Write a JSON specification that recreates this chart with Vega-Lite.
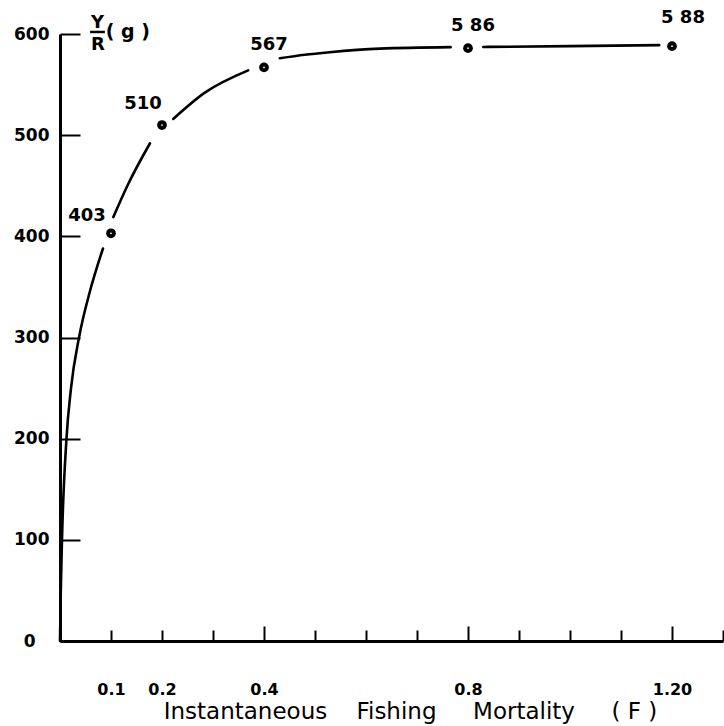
{
  "$schema": "https://vega.github.io/schema/vega-lite/v6.json",
  "width": 663,
  "height": 607,
  "autosize": {"type": "none"},
  "padding": {"left": 60, "top": 34, "right": 1, "bottom": 85},
  "background": "white",
  "config": {"view": {"stroke": null}, "font": "DejaVu Sans"},
  "datasets": {
    "curve": [
      {"seg": "a", "F": 0, "YR": 0},
      {"seg": "a", "F": 0.0016, "YR": 50},
      {"seg": "a", "F": 0.0039, "YR": 100},
      {"seg": "a", "F": 0.0127, "YR": 200},
      {"seg": "a", "F": 0.0216, "YR": 250},
      {"seg": "a", "F": 0.0373, "YR": 300},
      {"seg": "a", "F": 0.0578, "YR": 344},
      {"seg": "a", "F": 0.0843, "YR": 388},
      {"seg": "b", "F": 0.1045, "YR": 419},
      {"seg": "b", "F": 0.134, "YR": 452},
      {"seg": "b", "F": 0.1765, "YR": 492},
      {"seg": "c", "F": 0.222, "YR": 516},
      {"seg": "c", "F": 0.284, "YR": 542},
      {"seg": "c", "F": 0.369, "YR": 564},
      {"seg": "d", "F": 0.431, "YR": 576},
      {"seg": "d", "F": 0.48, "YR": 579.5},
      {"seg": "d", "F": 0.529, "YR": 582},
      {"seg": "d", "F": 0.627, "YR": 585.5},
      {"seg": "d", "F": 0.766, "YR": 587},
      {"seg": "e", "F": 0.83, "YR": 587.2},
      {"seg": "e", "F": 1.0, "YR": 588},
      {"seg": "e", "F": 1.175, "YR": 589}
    ],
    "points": [
      {"F": 0.1, "YR": 403, "label": "403"},
      {"F": 0.2, "YR": 510, "label": "510"},
      {"F": 0.4, "YR": 567, "label": "567"},
      {"F": 0.8, "YR": 586, "label": "5 86"},
      {"F": 1.2, "YR": 588, "label": "5 88"}
    ],
    "one": [{}]
  },
  "layer": [
    {
      "data": {"name": "curve"},
      "mark": {"type": "line", "interpolate": "monotone", "color": "black", "strokeWidth": 2.6, "strokeCap": "round"},
      "encoding": {
        "x": {
          "field": "F",
          "type": "quantitative",
          "scale": {"domain": [0, 1.3], "nice": false},
          "axis": {
            "values": [0.1, 0.2, 0.3, 0.4, 0.5, 0.6, 0.7, 0.8, 0.9, 1.0, 1.1, 1.2, 1.3],
            "labelExpr": "datum.value == 1.2 ? '1.20' : (datum.value == 0.1 || datum.value == 0.2 || datum.value == 0.4 || datum.value == 0.8) ? format(datum.value, '.1f') : ''",
            "grid": false,
            "domainColor": "black",
            "domainWidth": 3,
            "tickColor": "black",
            "tickWidth": 2,
            "tickSize": {"condition": {"test": "datum.value == 0.4 || datum.value == 0.8 || datum.value == 1.2", "value": -15}, "value": -11},
            "labelFontSize": 16,
            "labelFontWeight": "bold",
            "labelColor": "black",
            "labelPadding": {"condition": {"test": "datum.value == 0.4 || datum.value == 0.8 || datum.value == 1.2", "value": 55}, "value": 51},
            "labelFlush": false,
            "title": "Instantaneous\u00a0\u00a0\u00a0\u00a0Fishing\u00a0\u00a0\u00a0\u00a0\u00a0Mortality\u00a0\u00a0\u00a0\u00a0\u00a0(\u00a0F\u00a0)",
            "titleFontSize": 23,
            "titleFontWeight": "normal",
            "titleColor": "black",
            "titleX": 350,
            "titleY": 59,
            "titleAlign": "center",
            "titleBaseline": "top"
          }
        },
        "y": {
          "field": "YR",
          "type": "quantitative",
          "scale": {"domain": [0, 600], "nice": false},
          "axis": {
            "values": [0, 100, 200, 300, 400, 500, 600],
            "grid": false,
            "title": null,
            "domainColor": "black",
            "domainWidth": 3,
            "tickColor": "black",
            "tickWidth": 2,
            "tickSize": -20,
            "labelFontSize": 17,
            "labelFontWeight": "bold",
            "labelColor": "black",
            "labelPadding": {"condition": {"test": "datum.value == 0", "value": 45}, "value": 31},
            "labelFlush": false
          }
        },
        "detail": {"field": "seg"}
      }
    },
    {
      "data": {"name": "points"},
      "mark": {"type": "circle", "color": "black", "size": 95, "opacity": 1},
      "encoding": {
        "x": {"field": "F", "type": "quantitative"},
        "y": {"field": "YR", "type": "quantitative"}
      }
    },
    {
      "data": {"name": "points"},
      "mark": {"type": "circle", "color": "white", "size": 3, "opacity": 1},
      "encoding": {
        "x": {"field": "F", "type": "quantitative"},
        "y": {"field": "YR", "type": "quantitative"}
      }
    },
    {
      "data": {"name": "points"},
      "transform": [{"filter": "datum.YR == 403"}],
      "mark": {"type": "text", "fontSize": 18, "fontWeight": "bold", "dx": -24, "dy": -17, "color": "black"},
      "encoding": {
        "x": {"field": "F", "type": "quantitative"},
        "y": {"field": "YR", "type": "quantitative"},
        "text": {"field": "label"}
      }
    },
    {
      "data": {"name": "points"},
      "transform": [{"filter": "datum.YR == 510"}],
      "mark": {"type": "text", "fontSize": 18, "fontWeight": "bold", "dx": -19, "dy": -21, "color": "black"},
      "encoding": {
        "x": {"field": "F", "type": "quantitative"},
        "y": {"field": "YR", "type": "quantitative"},
        "text": {"field": "label"}
      }
    },
    {
      "data": {"name": "points"},
      "transform": [{"filter": "datum.YR == 567 || datum.YR == 586"}],
      "mark": {"type": "text", "fontSize": 18, "fontWeight": "bold", "dx": 5, "dy": -22, "color": "black"},
      "encoding": {
        "x": {"field": "F", "type": "quantitative"},
        "y": {"field": "YR", "type": "quantitative"},
        "text": {"field": "label"}
      }
    },
    {
      "data": {"name": "points"},
      "transform": [{"filter": "datum.YR == 588"}],
      "mark": {"type": "text", "fontSize": 18, "fontWeight": "bold", "dx": 11, "dy": -28, "color": "black"},
      "encoding": {
        "x": {"field": "F", "type": "quantitative"},
        "y": {"field": "YR", "type": "quantitative"},
        "text": {"field": "label"}
      }
    },
    {
      "data": {"name": "one"},
      "mark": {"type": "text", "fontSize": 18, "fontWeight": "bold", "color": "black"},
      "encoding": {
        "x": {"datum": 0.0735, "type": "quantitative"},
        "y": {"datum": 610.5, "type": "quantitative"},
        "text": {"value": "Y"}
      }
    },
    {
      "data": {"name": "one"},
      "mark": {"type": "rule", "color": "black", "strokeWidth": 2.5},
      "encoding": {
        "x": {"datum": 0.059, "type": "quantitative"},
        "x2": {"datum": 0.088},
        "y": {"datum": 602, "type": "quantitative"}
      }
    },
    {
      "data": {"name": "one"},
      "mark": {"type": "text", "fontSize": 18, "fontWeight": "bold", "color": "black"},
      "encoding": {
        "x": {"datum": 0.0745, "type": "quantitative"},
        "y": {"datum": 589.5, "type": "quantitative"},
        "text": {"value": "R"}
      }
    },
    {
      "data": {"name": "one"},
      "mark": {"type": "text", "fontSize": 19, "fontWeight": "bold", "color": "black"},
      "encoding": {
        "x": {"datum": 0.133, "type": "quantitative"},
        "y": {"datum": 602, "type": "quantitative"},
        "text": {"value": "( g )"}
      }
    }
  ]
}
